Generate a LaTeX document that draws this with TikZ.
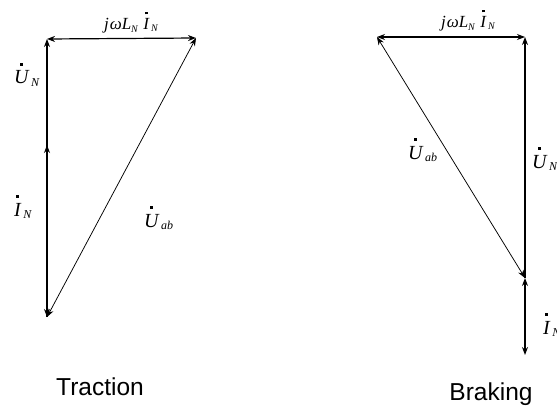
\documentclass[tikz,border=0pt]{standalone}
\usepackage{fontspec}
\setmainfont{Liberation Serif}
\newfontfamily\capfont{Liberation Sans}
\usetikzlibrary{arrows.meta}
\newcommand\dotl[1]{\ooalign{#1\cr\hidewidth\raisebox{0.92em}{\rule{0.15em}{0.15em}}\hidewidth\cr}}
\newcommand\phs[3]{\textit{\dotl{#1}}\kern0.12em\raisebox{-0.25ex}{\fontsize{#3}{#3}\selectfont\textit{#2}}}
\tikzset{
  tip/.tip={Stealth[length=8pt,width=6pt]},
  vec/.style={-tip, line width=1.2pt},
  dvec/.style={tip-tip, line width=1.2pt},
  dthin/.style={tip-tip, line width=0.75pt},
  lab/.style={inner sep=0pt, anchor=base west, font=\fontsize{20}{20}\selectfont},
  toplab/.style={inner sep=0pt, anchor=base west, font=\fontsize{17}{17}\selectfont},
  captxt/.style={inner sep=0pt, anchor=base, font=\capfont\fontsize{24.5}{24.5}\selectfont}
}
\begin{document}
\begin{tikzpicture}[x=1pt,y={(0pt,-1pt)}]
\useasboundingbox (0,0) rectangle (557,412);
% Traction
\coordinate (A) at (47,39);
\coordinate (B) at (196,38);
\coordinate (C) at (47,317);
\coordinate (M) at (47,145);
\draw[vec] (C) -- (M);
\draw[vec] (M) -- (A);
\draw[vec] (M) -- (C);
\draw[dvec] (B) -- (A);
\draw[dthin] (C) -- (B);
\node[toplab] (t1) at (104,30) {\textit{j}\kern0.05em\textit{ω}\textit{L}\raisebox{-0.3ex}{\fontsize{10}{10}\selectfont\textit{N}}\kern0.3em\phs{I}{N}{10}};
\node[lab] (t2) at (14,84) {\phs{U}{N}{12}};
\node[lab] (t3) at (14,216) {\phs{I}{N}{12}};
\node[lab] (t4) at (144,227) {\phs{U}{ab}{12}};
\node[captxt] (t5) at (100,395) {Traction};
% Braking
\coordinate (P) at (377,37);
\coordinate (Q) at (525,37);
\coordinate (R) at (525,278);
\coordinate (S) at (525,355);
\draw[dvec] (P) -- (Q);
\draw[vec] (R) -- (Q);
\draw[dthin] (P) -- (R);
\draw[dvec] (R) -- (S);
\node[toplab] (b1) at (441,28) {\textit{j}\kern0.05em\textit{ω}\textit{L}\raisebox{-0.3ex}{\fontsize{10}{10}\selectfont\textit{N}}\kern0.3em\phs{I}{N}{10}};
\node[lab] (b2) at (408,159) {\phs{U}{ab}{12}};
\node[lab] (b3) at (532,168) {\phs{U}{N}{12}};
\node[lab] (b4) at (543,334) {\phs{I}{N}{12}};
\node[captxt] (b5) at (491,400) {Braking};
\end{tikzpicture}
\end{document}
